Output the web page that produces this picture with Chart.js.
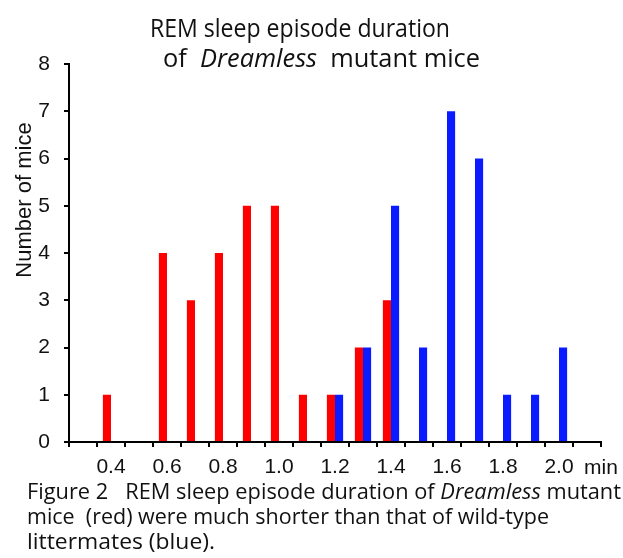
<!DOCTYPE html>
<html>
<head>
<meta charset="utf-8">
<script src="https://cdn.jsdelivr.net/npm/chart.js@4.4.1/dist/chart.umd.min.js"></script>
<style>
  html, body { margin: 0; padding: 0; background: #fff; }
  #wrap { position: relative; width: 623px; height: 558px; }
  canvas { display: block; }
</style>
</head>
<body>
<div id="wrap"><canvas id="c" width="623" height="558"></canvas></div>
<script>
// ---- Data ----
const categories = ['0.3','0.4','0.5','0.6','0.7','0.8','0.9','1.0','1.1','1.2','1.3','1.4','1.5','1.6','1.7','1.8','1.9','2.0','2.1'];
const tickLabels = ['0.4','0.6','0.8','1.0','1.2','1.4','1.6','1.8','2.0'];
const mutantCounts   = [0,1,0,4,3,4,5,5,1,1,2,3,0,0,0,0,0,0,0];
const wildTypeCounts = [0,0,0,0,0,0,0,0,0,1,2,5,2,7,6,1,1,2,0];
const yTicks = [0,1,2,3,4,5,6,7,8];
const titleLines = [
  [{t:'REM sleep episode duration', i:false}],
  [{t:'of  ', i:false},{t:'Dreamless', i:true},{t:'  mutant mice', i:false}]
];
const captionLines = [
  [{t:'Figure 2\u00a0\u00a0 REM sleep episode duration of ', i:false},{t:'Dreamless', i:true},{t:' mutant', i:false}],
  [{t:'mice\u00a0 (red) were much shorter than that of wild-type', i:false}],
  [{t:'littermates (blue).', i:false}]
];
const yTitle = 'Number of mice';
const xUnit = 'min';

const TXT = '#111';
const RICH = 'Open Sans';

// draw mixed-style text, fitted horizontally to a target width
function drawRich(ctx, segs, x, y, size, width) {
  let total = 0;
  segs.forEach(s => {
    ctx.font = (s.i ? 'italic ' : '') + size + 'px "' + RICH + '"';
    total += ctx.measureText(s.t).width;
  });
  const sx = width ? width / total : 1;
  ctx.save();
  ctx.translate(x, y);
  ctx.scale(sx, 1);
  let cx = 0;
  segs.forEach(s => {
    ctx.font = (s.i ? 'italic ' : '') + size + 'px "' + RICH + '"';
    ctx.fillText(s.t, cx, 0);
    cx += ctx.measureText(s.t).width;
  });
  ctx.restore();
}

const textPlugin = {
  id: 'texts',
  afterDraw(chart) {
    const ctx = chart.ctx;
    ctx.save();
    ctx.fillStyle = TXT;
    ctx.textBaseline = 'alphabetic';
    ctx.textAlign = 'left';
    // title
    drawRich(ctx, titleLines[0], 150, 37, 25, 300);
    drawRich(ctx, titleLines[1], 163, 67, 25, 317);
    // caption
    drawRich(ctx, captionLines[0], 27, 499, 22, 594);
    drawRich(ctx, captionLines[1], 27, 524, 22, 522);
    drawRich(ctx, captionLines[2], 27, 549, 22, 188);
    // x unit
    ctx.font = '21px "Liberation Sans"';
    ctx.textBaseline = 'middle';
    ctx.fillText(xUnit, 584, 468);
    // y title
    ctx.translate(25, 200);
    ctx.rotate(-Math.PI / 2);
    ctx.textAlign = 'center';
    ctx.font = '22px "Liberation Sans"';
    ctx.fillText(yTitle, 0, 0);
    ctx.restore();
  }
};

new Chart(document.getElementById('c'), {
  type: 'bar',
  data: {
    labels: categories,
    datasets: [
      { label: 'Dreamless mutant', data: mutantCounts, backgroundColor: '#ff0000', borderWidth: 0 },
      { label: 'Wild-type', data: wildTypeCounts, backgroundColor: '#0a1cff', borderWidth: 0 }
    ]
  },
  options: {
    responsive: false,
    animation: false,
    devicePixelRatio: 1,
    categoryPercentage: 0.58,
    barPercentage: 1.0,
    layout: { padding: { top: 64, right: 22, bottom: 76, left: 0 } },
    plugins: { legend: { display: false }, tooltip: { enabled: false }, title: { display: false } },
    scales: {
      x: {
        type: 'category',
        offset: true,
        afterFit(s) { s.height = 40; },
        grid: { display: true, offset: true, drawOnChartArea: false, drawTicks: true, tickLength: 5, color: '#000', lineWidth: 2 },
        border: { display: true, color: '#000', width: 2 },
        ticks: {
          autoSkip: false, maxRotation: 0, minRotation: 0, padding: 8,
          color: TXT, font: { family: 'Liberation Sans', size: 21 },
          callback(v, i) { const l = categories[i]; return tickLabels.includes(l) ? l : ''; }
        }
      },
      y: {
        min: 0, max: 8,
        afterFit(s) { s.width = 69; },
        afterBuildTicks(s) { s.ticks = yTicks.map(v => ({ value: v })); },
        grid: { display: true, drawOnChartArea: false, drawTicks: true, tickLength: 5, color: '#000', lineWidth: 2 },
        border: { display: true, color: '#000', width: 2 },
        ticks: { padding: 14, color: TXT, font: { family: 'Liberation Sans', size: 21 } }
      }
    }
  },
  plugins: [textPlugin]
});
</script>
</body>
</html>
